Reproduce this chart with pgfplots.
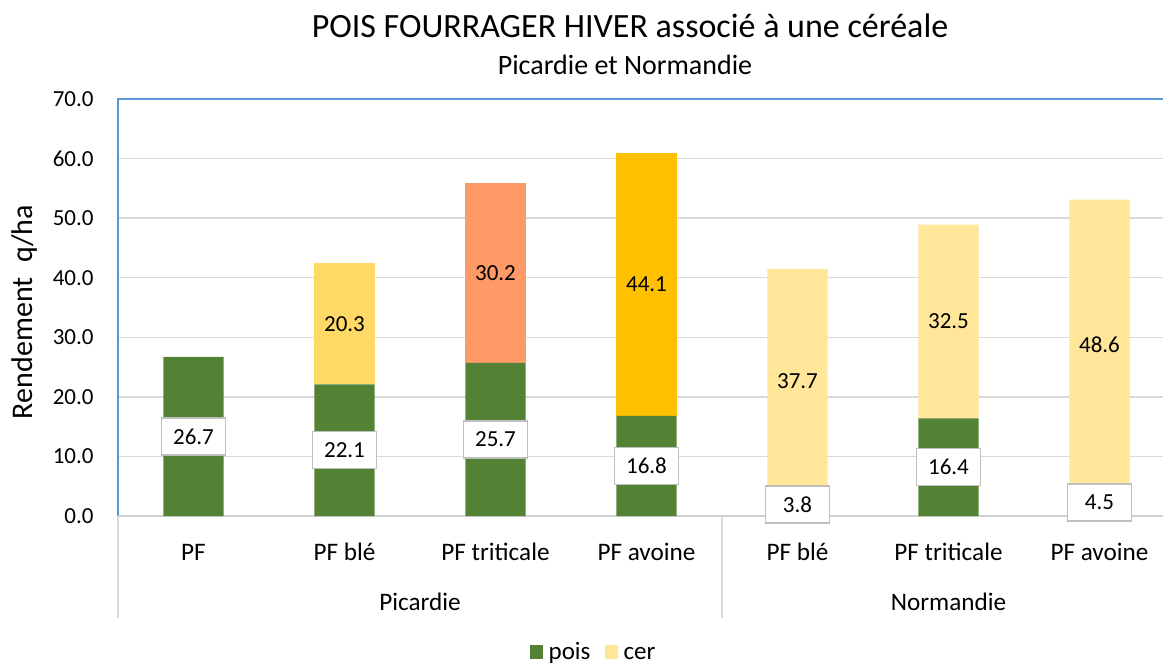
\documentclass[border=0pt]{standalone}
\usepackage{fontspec}
\setmainfont{Carlito}
\usepackage{pgfplots}
\pgfplotsset{compat=1.18}
\usepackage{pgfplotstable}
\definecolor{poisgreen}{RGB}{84,130,53}
\definecolor{cerA}{RGB}{255,217,102}
\definecolor{cerB}{RGB}{255,153,102}
\definecolor{cerC}{RGB}{255,192,0}
\definecolor{cerD}{RGB}{255,230,153}
\definecolor{axblue}{RGB}{91,155,213}
\definecolor{gridgray}{RGB}{217,217,217}
\definecolor{axgray}{RGB}{205,208,212}
\definecolor{boxgray}{RGB}{191,191,191}

\pgfplotstableread{
x pois cer
0 26.7 0
1 22.1 20.3
2 25.7 30.2
3 16.8 44.1
4 3.8 37.7
5 16.4 32.5
6 4.5 48.6
}\rend

\begin{document}
\begin{tikzpicture}
\begin{axis}[
  at={(59pt,74.5pt)}, anchor=south west,
  scale only axis, width=528.5pt, height=208.5pt,
  ybar stacked, bar width=0.4,
  xmin=-0.5, xmax=6.5, ymin=0, ymax=70,
  xtick={0,...,6},
  xticklabels={PF, PF blé, PF triticale, PF avoine, PF blé, PF triticale, PF avoine},
  xticklabel style={anchor=base, yshift=-22pt, font=\fontsize{12.6}{15}\selectfont},
  ytick={0,10,...,70},
  yticklabel style={anchor=east, inner sep=0pt, xshift=-12pt, font=\fontsize{11.5}{14}\selectfont,
    /pgf/number format/.cd, fixed, fixed zerofill, precision=1, assume math mode=true},
  major tick length=0pt,
  axis line style={draw=none},
  ymajorgrids, grid style={draw=gridgray, line width=0.75pt},
  clip=false,
  legend columns=2,
  legend cell align=left,
  legend style={at={(0.4517,-0.326)}, anchor=center, draw=none, fill=none,
    font=\fontsize{12.5}{15}\selectfont,
    nodes={anchor=base west, inner xsep=3pt},
    /tikz/every even column/.append style={column sep=4pt}},
]
\addplot[fill=poisgreen, draw=none,
  legend image code/.code={\fill[poisgreen] (0pt,0pt) rectangle (6.5pt,6.8pt);}]
  table[x=x, y=pois]{\rend};
\addlegendentry{pois}
\addplot[fill=cerD, draw=none,
  legend image code/.code={\fill[cerD] (0pt,0pt) rectangle (6.5pt,6.8pt);}]
  table[x=x, y expr={\thisrow{x}>3 ? \thisrow{cer} : 0}]{\rend};
\addlegendentry{cer}
\addplot[fill=cerA, draw=none] table[x=x, y expr={\thisrow{x}==1 ? \thisrow{cer} : 0}]{\rend};
\addplot[fill=cerB, draw=none] table[x=x, y expr={\thisrow{x}==2 ? \thisrow{cer} : 0}]{\rend};
\addplot[fill=cerC, draw=none] table[x=x, y expr={\thisrow{x}==3 ? \thisrow{cer} : 0}]{\rend};

\draw[axgray, line width=0.75pt] (rel axis cs:0,0) -- (rel axis cs:1,0);
\draw[axblue, line width=0.75pt] (rel axis cs:0,0) -- (rel axis cs:0,1) -- (rel axis cs:1,1) -- (rel axis cs:1,0);
\draw[gridgray, line width=0.75pt] (axis cs:-0.5,0) -- ++(0pt,-51pt);
\draw[gridgray, line width=0.75pt] (axis cs:3.5,0) -- ++(0pt,-51pt);
\draw[gridgray, line width=0.75pt] (axis cs:6.5,0) -- ++(0pt,-51pt);
\node[anchor=base, font=\fontsize{12.6}{15}\selectfont] at ([yshift=-47pt]axis cs:1.5,0) {Picardie};
\node[anchor=base, font=\fontsize{12.6}{15}\selectfont] at ([yshift=-47pt]axis cs:5,0) {Normandie};
\end{axis}

\begin{axis}[
  at={(59pt,74.5pt)}, anchor=south west,
  scale only axis, width=528.5pt, height=208.5pt,
  xmin=-0.5, xmax=6.5, ymin=0, ymax=70,
  hide axis, clip=false,
]
\addplot[draw=none, mark=none, nodes near coords, point meta=explicit symbolic,
  every node near coord/.append style={anchor=center, fill=white, draw=boxgray, line width=0.75pt,
    minimum width=32pt, minimum height=18.5pt, inner sep=0pt, text=black,
    font=\fontsize{11.5}{14}\selectfont}]
  table[x=x, y expr=\thisrow{pois}/2, meta=pois]{\rend};
\addplot[draw=none, mark=none, nodes near coords, point meta=explicit symbolic,
  skip coords between index={0}{1},
  every node near coord/.append style={anchor=center, text=black, font=\fontsize{11.5}{14}\selectfont}]
  table[x=x, y expr=\thisrow{pois}+\thisrow{cer}/2, meta=cer]{\rend};
\end{axis}

\node[anchor=base, font=\fontsize{17}{20}\selectfont] at (315pt,313.5pt) {POIS FOURRAGER HIVER associé à une céréale};
\node[anchor=base, font=\fontsize{14}{17}\selectfont] at (312.5pt,295pt) {Picardie et Normandie};
\node[rotate=90, anchor=base, font=\fontsize{15}{18}\selectfont] at (16pt,176.5pt) {Rendement\hspace{0.5em}q/ha};

\pgfresetboundingbox
\useasboundingbox (0,0) rectangle (581.5pt,332.5pt);
\end{tikzpicture}
\end{document}
